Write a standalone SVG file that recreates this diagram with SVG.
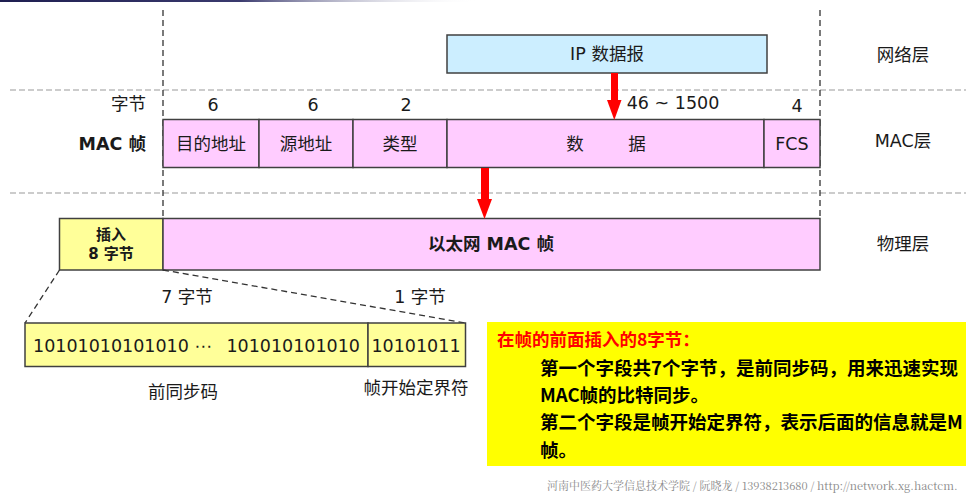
<svg xmlns="http://www.w3.org/2000/svg" width="966" height="493" viewBox="0 0 966 493">
<defs>
<linearGradient id="topbar" x1="0" y1="0" x2="1" y2="0">
<stop offset="0" stop-color="#1e1e50"/>
<stop offset="0.5" stop-color="#3a3a6e"/>
<stop offset="1" stop-color="#ffffff" stop-opacity="0"/>
</linearGradient>
<style>
text{font-family:"DejaVu Sans","Noto Sans CJK SC",sans-serif;fill:#1a1a1a}
.n{font-size:17.5px}
.c{text-anchor:middle}
.b{font-weight:bold}
.cell{fill:#ffccff;stroke:#404040;stroke-width:1.5}
.yel{fill:#ffff99;stroke:#404040;stroke-width:1.5}
.gl{stroke:#cccccc;stroke-width:2;stroke-dasharray:6 3;fill:none}
.vl{stroke:#333;stroke-width:1.3;stroke-dasharray:6 4;fill:none}
.red{fill:#ff0000}
.tb{font-size:18.5px;font-weight:bold;fill:#000;font-family:"Noto Sans CJK SC","DejaVu Sans",sans-serif}
</style>
</defs>
<rect x="0" y="0" width="480" height="2" fill="url(#topbar)"/>
<g id="guides">
<line class="gl" x1="10" y1="90" x2="966" y2="90"/>
<line class="gl" x1="10" y1="193" x2="966" y2="193"/>
<line class="vl" x1="163" y1="10" x2="163" y2="270"/>
<line class="vl" x1="820" y1="10" x2="820" y2="220"/>
</g>
<g id="ip">
<rect x="447" y="35" width="320" height="38" fill="#cceeff" stroke="#404040" stroke-width="1.5"/>
<text class="n c" x="607" y="60">IP 数据报</text>
</g>
<g id="layers">
<text class="n c" x="903" y="61" font-size="18">网络层</text>
<text class="n c" x="903" y="147">MAC层</text>
<text class="n c" x="903" y="250" font-size="18">物理层</text>
</g>
<g id="bytes">
<text class="n" x="146" y="110" text-anchor="end">字节</text>
<text class="n c" x="213" y="111">6</text>
<text class="n c" x="313" y="111">6</text>
<text class="n c" x="406" y="111">2</text>
<text class="n c" x="673" y="109">46 ~ 1500</text>
<text class="n c" x="797" y="112">4</text>
<text class="n b" x="146" y="150" text-anchor="end">MAC 帧</text>
</g>
<g id="mac">
<rect class="cell" x="163" y="119.5" width="96" height="48"/>
<rect class="cell" x="259" y="119.5" width="94" height="48"/>
<rect class="cell" x="353" y="119.5" width="94" height="48"/>
<rect class="cell" x="447" y="119.5" width="317" height="48"/>
<rect class="cell" x="764" y="119.5" width="56" height="48"/>
<text class="n c" x="211" y="150">目的地址</text>
<text class="n c" x="306" y="150">源地址</text>
<text class="n c" x="400" y="150">类型</text>
<text class="n c" x="575" y="150">数</text>
<text class="n c" x="637" y="150">据</text>
<text class="n c" x="792" y="150">FCS</text>
</g>
<g id="phys">
<rect class="yel" x="59.5" y="218.5" width="103.5" height="51.5"/>
<rect class="cell" x="163" y="218.5" width="657" height="51.5"/>
<text class="c b" x="111" y="240" font-size="15">插入</text>
<text class="c b" x="111" y="259" font-size="15">8 字节</text>
<text class="c b" x="491" y="250" font-size="17.5">以太网 MAC 帧</text>
</g>
<g id="connectors">
<rect class="red" x="611" y="73" width="7" height="28"/>
<polygon class="red" points="607,100 621.5,100 614.3,120"/>
<rect class="red" x="481" y="168" width="8" height="32"/>
<polygon class="red" points="477,199 492,199 484.5,219"/>
<line class="vl" x1="59.5" y1="270" x2="25" y2="323"/>
<line class="vl" x1="163" y1="270" x2="465.5" y2="323"/>
</g>
<g id="preamble">
<text class="n c" x="187" y="303">7 字节</text>
<text class="n c" x="420" y="303">1 字节</text>
<rect class="yel" x="25" y="323" width="343" height="43.5"/>
<rect class="yel" x="368" y="323" width="97.5" height="43.5"/>
<text class="n" x="33" y="352" font-size="17">10101010101010 ⋯</text>
<text class="n" x="360" y="352" font-size="17" text-anchor="end">101010101010</text>
<text class="n c" x="416" y="352" font-size="17">10101011</text>
<text class="n c" x="183" y="398" font-size="18.5">前同步码</text>
<text class="n c" x="416" y="394" font-size="18">帧开始定界符</text>
</g>
<g id="note">
<rect x="487" y="322" width="480" height="144" fill="#ffff00"/>
<text x="497" y="346" font-size="17.5" font-weight="bold" style="fill:#ff0000;font-family:'Noto Sans CJK SC',sans-serif">在帧的前面插入的8字节：</text>
<text class="tb" x="540" y="375">第一个字段共7个字节，是前同步码，用来迅速实现</text>
<text class="tb" x="540" y="402">MAC帧的比特同步。</text>
<text class="tb" x="540" y="429">第二个字段是帧开始定界符，表示后面的信息就是M</text>
<text class="tb" x="540" y="457">帧。</text>
</g>
<text x="547" y="490" font-size="11" style="font-family:'Noto Serif CJK SC','Liberation Serif','Noto Sans CJK SC',serif;fill:#888888">河南中医药大学信息技术学院 / 阮晓龙 / 13938213680 / http://network.xg.hactcm.</text>
</svg>
